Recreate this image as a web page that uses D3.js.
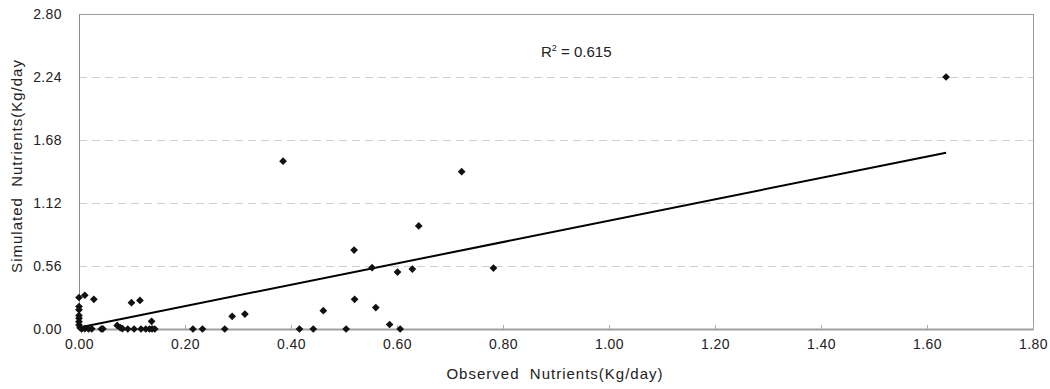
<!DOCTYPE html>
<html>
<head>
<meta charset="utf-8">
<script src="https://cdnjs.cloudflare.com/ajax/libs/d3/7.8.5/d3.min.js"></script>
<style>
  body { margin: 0; background: #fff; }
  text { font-family: "Liberation Sans", Arial, sans-serif; fill: #222; white-space: pre; }
</style>
</head>
<body>
<div class="visHolder"></div>
<script>
const w = 1050;
const h = 389;
const margin = {top: 14, right: 17, bottom: 60, left: 79};

// observed vs simulated (Kg/day)
const observed = [0.000, 0.011, 0.028, 0.000, 0.000, 0.000, 0.000, 0.000, 0.000, 0.002,
  0.005, 0.011, 0.018, 0.024, 0.042, 0.045, 0.072, 0.078, 0.082, 0.092,
  0.104, 0.099, 0.115, 0.117, 0.126, 0.133, 0.137, 0.138, 0.143, 0.215,
  0.233, 0.275, 0.289, 0.313, 0.385, 0.416, 0.442, 0.461, 0.504, 0.519,
  0.520, 0.553, 0.560, 0.586, 0.601, 0.606, 0.629, 0.641, 0.722, 0.782, 1.636];
const simulated = [0.280, 0.300, 0.264, 0.200, 0.170, 0.120, 0.095, 0.065, 0.036, 0.012,
  0.000, 0.003, 0.000, 0.002, 0.000, 0.002, 0.032, 0.012, 0.003, 0.000,
  0.000, 0.234, 0.254, 0.000, 0.000, 0.000, 0.068, 0.002, 0.000, 0.000,
  0.000, 0.000, 0.113, 0.133, 1.492, 0.000, 0.000, 0.163, 0.000, 0.702,
  0.264, 0.545, 0.190, 0.040, 0.506, 0.000, 0.533, 0.916, 1.398, 0.542, 2.240];

// linear trend line ends
const trendX = [0.003, 1.636];
const trendY = [0.016, 1.567];

const xTicks = [0, 0.2, 0.4, 0.6, 0.8, 1.0, 1.2, 1.4, 1.6, 1.8];
const yTicks = [0, 0.56, 1.12, 1.68, 2.24, 2.80];
const r2Label = '0.615';

const iw = w - margin.left - margin.right;
const ih = h - margin.top - margin.bottom;

const svg = d3.select('.visHolder').append('svg').attr('width', w).attr('height', h);
const g = svg.append('g').attr('transform', 'translate(' + margin.left + ',' + margin.top + ')');

const xScale = d3.scaleLinear().domain([0, 1.8]).range([0, iw]);
const yScale = d3.scaleLinear().domain([0, 2.8]).range([ih, 0]);

// grid
g.selectAll('.grid').data(yTicks.slice(1, -1)).enter().append('line')
  .attr('x1', 0).attr('x2', iw)
  .attr('y1', d => Math.round(yScale(d)) + 0.5).attr('y2', d => Math.round(yScale(d)) + 0.5)
  .attr('stroke', '#cfcfcf').attr('stroke-dasharray', '8,5');

// frame
g.append('rect').attr('x', 0.5).attr('y', 0.5).attr('width', iw).attr('height', ih)
  .attr('fill', 'none').attr('stroke', '#9a9a9a');

// axes
const xAxis = d3.axisBottom(xScale).tickValues(xTicks).tickFormat(d3.format('.2f')).tickSizeInner(-4).tickSizeOuter(0).tickPadding(10);
const yAxis = d3.axisLeft(yScale).tickValues(yTicks).tickFormat(d3.format('.2f')).tickSize(0).tickPadding(17);

const gx = g.append('g').attr('transform', 'translate(0,' + ih + ')').call(xAxis);
gx.select('.domain').attr('stroke', '#a0a0a0').attr('stroke-width', 2);
gx.selectAll('.tick line').attr('stroke', '#b0b0b0');
gx.selectAll('text').style('font-size', '14px').style('letter-spacing', '0.4px').attr('fill', '#222');

const gy = g.append('g').call(yAxis);
gy.select('.domain').attr('stroke', '#8a8a8a');
gy.selectAll('text').style('font-size', '14px').style('letter-spacing', '0.4px').attr('fill', '#222');

// trend line
g.append('path')
  .datum(d3.zip(trendX, trendY))
  .attr('d', d3.line().x(d => xScale(d[0])).y(d => yScale(d[1])))
  .attr('stroke', '#000').attr('stroke-width', 2).attr('fill', 'none');

// points
const diamond = d3.symbol().type(d3.symbolSquare).size(30);
g.selectAll('.pt').data(d3.zip(observed, simulated)).enter().append('path')
  .attr('class', 'pt')
  .attr('d', diamond)
  .attr('transform', d => 'translate(' + xScale(d[0]) + ',' + yScale(d[1]) + ') rotate(45)')
  .attr('fill', '#111');

// R2
const r2 = svg.append('text').attr('x', 541).attr('y', 57).style('font-size', '15px');
r2.append('tspan').text('R');
r2.append('tspan').attr('dy', -6).style('font-size', '9px').text('2');
r2.append('tspan').attr('dy', 6).text(' = ' + r2Label);

// axis titles
svg.append('text').attr('x', 555).attr('y', 379)
  .attr('text-anchor', 'middle').style('font-size', '15px').style('letter-spacing', '1px')
  .text('Observed  Nutrients(Kg/day)');
svg.append('text').attr('transform', 'translate(22,166) rotate(-90)')
  .attr('text-anchor', 'middle').style('font-size', '15px').style('letter-spacing', '1px')
  .text('Simulated  Nutrients(Kg/day');
</script>
</body>
</html>
